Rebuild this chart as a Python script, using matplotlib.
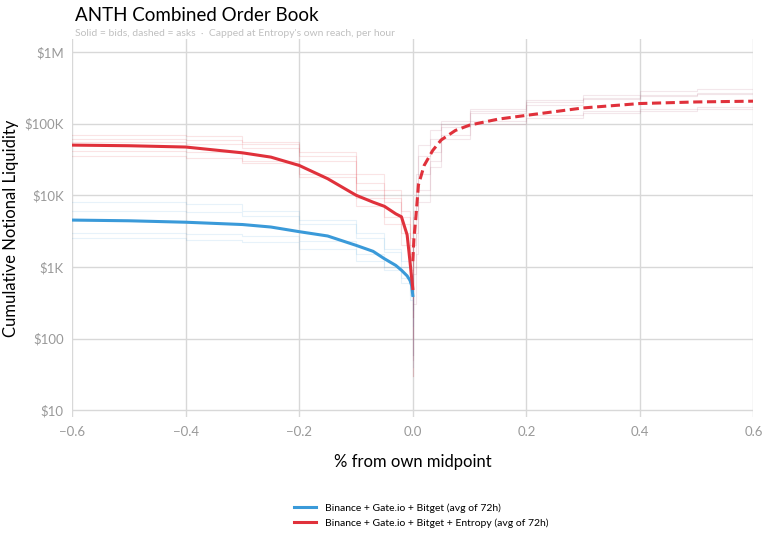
import numpy as np
import matplotlib.pyplot as plt

# averaged curves (% from midpoint, cumulative notional $)
bid_x = [-0.6, -0.5, -0.4, -0.3, -0.25, -0.2, -0.15, -0.1, -0.07, -0.05, -0.03, -0.02, -0.01, -0.005, -0.002, 0.0]
blue_bid = [4500, 4400, 4200, 3900, 3600, 3100, 2700, 2000, 1650, 1300, 1050, 900, 750, 650, 550, 400]
red_bid = [50000, 49000, 47000, 39000, 34000, 26000, 17000, 10000, 8000, 7000, 5500, 5000, 2800, 1200, 700, 500]
ask_x = [0.0, 0.002, 0.005, 0.01, 0.02, 0.035, 0.05, 0.075, 0.1, 0.15, 0.2, 0.3, 0.4, 0.5, 0.6]
red_ask = [1200, 2500, 4500, 14000, 26000, 42000, 59000, 80000, 95000, 115000, 130000, 165000, 190000, 200000, 205000]

# a few individual hourly snapshots (faint background lines)
hour_bid_x = [-0.6, -0.4, -0.3, -0.2, -0.1, -0.05, -0.02, -0.005, 0.0]
hours_red_bid = [
    [60000, 58000, 52000, 40000, 15000, 8000, 4000, 900, 60],
    [42000, 40000, 30000, 18000, 7000, 5000, 3000, 1500, 200],
    [70000, 66000, 55000, 35000, 20000, 12000, 6000, 2500, 300],
    [35000, 33000, 28000, 20000, 9000, 4000, 2000, 600, 30],
    [55000, 52000, 45000, 30000, 12000, 9000, 5000, 2000, 100],
]
hours_blue_bid = [
    [6000, 5800, 5200, 4000, 2500, 1600, 1000, 700, 150],
    [3000, 2900, 2700, 2300, 1500, 1000, 700, 400, 60],
    [8000, 7500, 6000, 4500, 3000, 1800, 1200, 800, 250],
    [2500, 2400, 2200, 1800, 1200, 900, 600, 350, 40],
]
hour_ask_x = [0.0, 0.005, 0.01, 0.03, 0.05, 0.1, 0.2, 0.3, 0.4, 0.5, 0.6]
hours_ask = [
    [200, 2000, 6000, 20000, 40000, 90000, 140000, 180000, 220000, 240000, 260000],
    [50, 800, 3000, 12000, 30000, 70000, 110000, 130000, 150000, 160000, 170000],
    [500, 5000, 20000, 50000, 80000, 110000, 150000, 200000, 250000, 280000, 300000],
    [30, 300, 1500, 8000, 25000, 60000, 100000, 120000, 140000, 150000, 160000],
    [900, 6000, 15000, 35000, 60000, 100000, 160000, 210000, 230000, 250000, 270000],
]

blue = '#3a9ad9'
red = '#e0313b'

plt.rcParams['font.family'] = ['Lato', 'DejaVu Sans']
fig, ax = plt.subplots(figsize=(7.68, 5.37), dpi=100)
fig.subplots_adjust(left=0.094, right=0.981, top=0.927, bottom=0.223)

for h in hours_red_bid:
    ax.step(hour_bid_x, h, where='post', color=red, alpha=0.13, lw=0.8)
for h in hours_blue_bid:
    ax.step(hour_bid_x, h, where='post', color=blue, alpha=0.12, lw=0.8)
for h in hours_ask:
    ax.step(hour_ask_x, h, where='pre', color='#a0405e', alpha=0.12, lw=0.8)

ax.plot(bid_x, blue_bid, color=blue, lw=2.2, label='Binance + Gate.io + Bitget (avg of 72h)')
ax.plot(bid_x, red_bid, color=red, lw=2.2, label='Binance + Gate.io + Bitget + Entropy (avg of 72h)')
ax.plot(ask_x, red_ask, color=red, lw=2.2, ls=(0, (3, 1.5)))

ax.set_yscale('log')
ax.set_ylim(8, 1.5e6)
ax.set_xlim(-0.6, 0.6)
ax.set_yticks([10, 100, 1000, 1e4, 1e5, 1e6])
ax.set_yticklabels(['$10', '$100', '$1K', '$10K', '$100K', '$1M'])
ax.set_xticks([-0.6, -0.4, -0.2, 0.0, 0.2, 0.4, 0.6])
ax.set_xticklabels(['\u22120.6', '\u22120.4', '\u22120.2', '0.0', '0.2', '0.4', '0.6'])
ax.minorticks_off()
ax.tick_params(colors='#999999', labelsize=9.5, length=0, pad=6)
ax.grid(True, color='#d8d8d8', lw=1)
for s in ax.spines.values():
    s.set_visible(False)
ax.set_xlabel('% from own midpoint', fontsize=12, labelpad=12)
ax.set_ylabel('Cumulative Notional Liquidity', fontsize=12)

fig.text(0.098, 0.972, 'ANTH Combined Order Book', fontsize=13.5, va='center')
fig.text(0.098, 0.938, "Solid = bids, dashed = asks  \u00b7  Capped at Entropy's own reach, per hour",
         fontsize=7.5, color='#c0c0c0', va='center')
fig.legend(loc='lower left', bbox_to_anchor=(0.37, 0.0), frameon=False, fontsize=7.5,
           handlelength=2.2)
fig.savefig('out.png')
